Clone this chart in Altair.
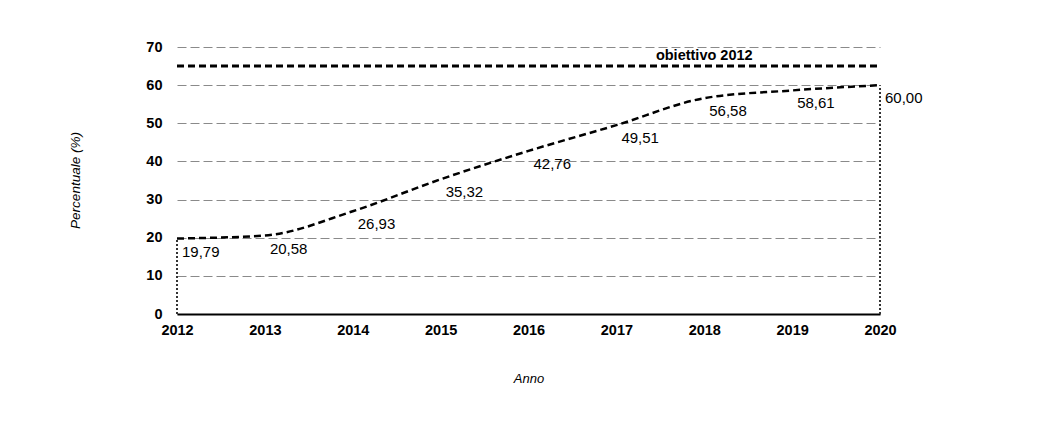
import altair as alt
import pandas as pd

years = [2012, 2013, 2014, 2015, 2016, 2017, 2018, 2019, 2020]
values = [19.79, 20.58, 26.93, 35.32, 42.76, 49.51, 56.58, 58.61, 60.00]
target_value = 65
target_label = "obiettivo 2012"
target_label_year = 2018
y_ticks = [0, 10, 20, 30, 40, 50, 60, 70]

df = pd.DataFrame({
    "anno": years,
    "valore": values,
    "etichetta": [f"{v:.2f}".replace(".", ",") for v in values],
})
ends = df.iloc[[0, -1]].assign(zero=0)
target_df = pd.DataFrame({"x0": [years[0]], "x1": [years[-1]], "y": [target_value],
                          "xl": [target_label_year], "label": [target_label]})

FONT = "Liberation Sans"

x_scale = alt.Scale(domain=[years[0], years[-1]], nice=False, zero=False)
y_scale = alt.Scale(domain=[0, 70], nice=False)
x_axis = alt.Axis(values=years, format="d", title="Anno", grid=False, ticks=False,
                  domainColor="black", domainWidth=2, labelFont=FONT, labelFontSize=14.5,
                  labelFontWeight="bold", labelColor="black", labelPadding=9,
                  labelFlush=False, labelOverlap=False,
                  titleFont=FONT, titleFontSize=13, titleFontStyle="italic",
                  titleFontWeight="normal", titleColor="black", titleY=64,
                  titleBaseline="middle")
y_axis = alt.Axis(values=y_ticks, title="Percentuale (%)", domain=False, ticks=False,
                  gridColor="#8a8a8a", gridDash=[9, 4], gridWidth=1,
                  labelFont=FONT, labelFontSize=14.5, labelFontWeight="bold",
                  labelColor="black", labelPadding=15, labelOverlap=False,
                  titleFont=FONT, titleFontSize=13.5, titleFontStyle="italic",
                  titleFontWeight="normal", titleColor="black", titleX=-102,
                  titleY=133, titleAngle=-90, titleBaseline="middle")


def X(field):
    return alt.X(field, type="quantitative", scale=x_scale, axis=x_axis)


def Y(field):
    return alt.Y(field, type="quantitative", scale=y_scale, axis=y_axis)


line = alt.Chart(df).mark_line(color="black", strokeWidth=2.5, strokeDash=[7, 4],
                               interpolate="monotone").encode(x=X("anno"), y=Y("valore"))

drops = alt.Chart(ends).mark_rule(color="#333", strokeWidth=2, strokeDash=[2, 2]).encode(
    x=X("anno"), y=Y("zero"), y2="valore:Q")

labels = alt.Chart(df).mark_text(align="left", baseline="middle", dx=5, dy=13, font=FONT,
                                 fontSize=15, color="black").encode(
    x=X("anno"), y=Y("valore"), text="etichetta:N")

target = alt.Chart(target_df).mark_rule(color="black", strokeWidth=3, strokeDash=[7, 4]).encode(
    x=X("x0"), x2="x1:Q", y=Y("y"))

target_text = alt.Chart(target_df).mark_text(align="center", baseline="bottom", dy=-3,
                                             font=FONT, fontSize=14.5, fontWeight="bold",
                                             color="black").encode(
    x=X("xl"), y=Y("y"), text="label:N")

chart = alt.layer(line, drops, labels, target, target_text).properties(
    width=703, height=267,
    autosize=alt.AutoSizeParams(type="none"),
    padding={"left": 169, "top": 39, "right": 160, "bottom": 105},
    background="white",
).configure_view(stroke=None)

chart.save("out.html", embed_options={"renderer": "svg", "actions": False})
